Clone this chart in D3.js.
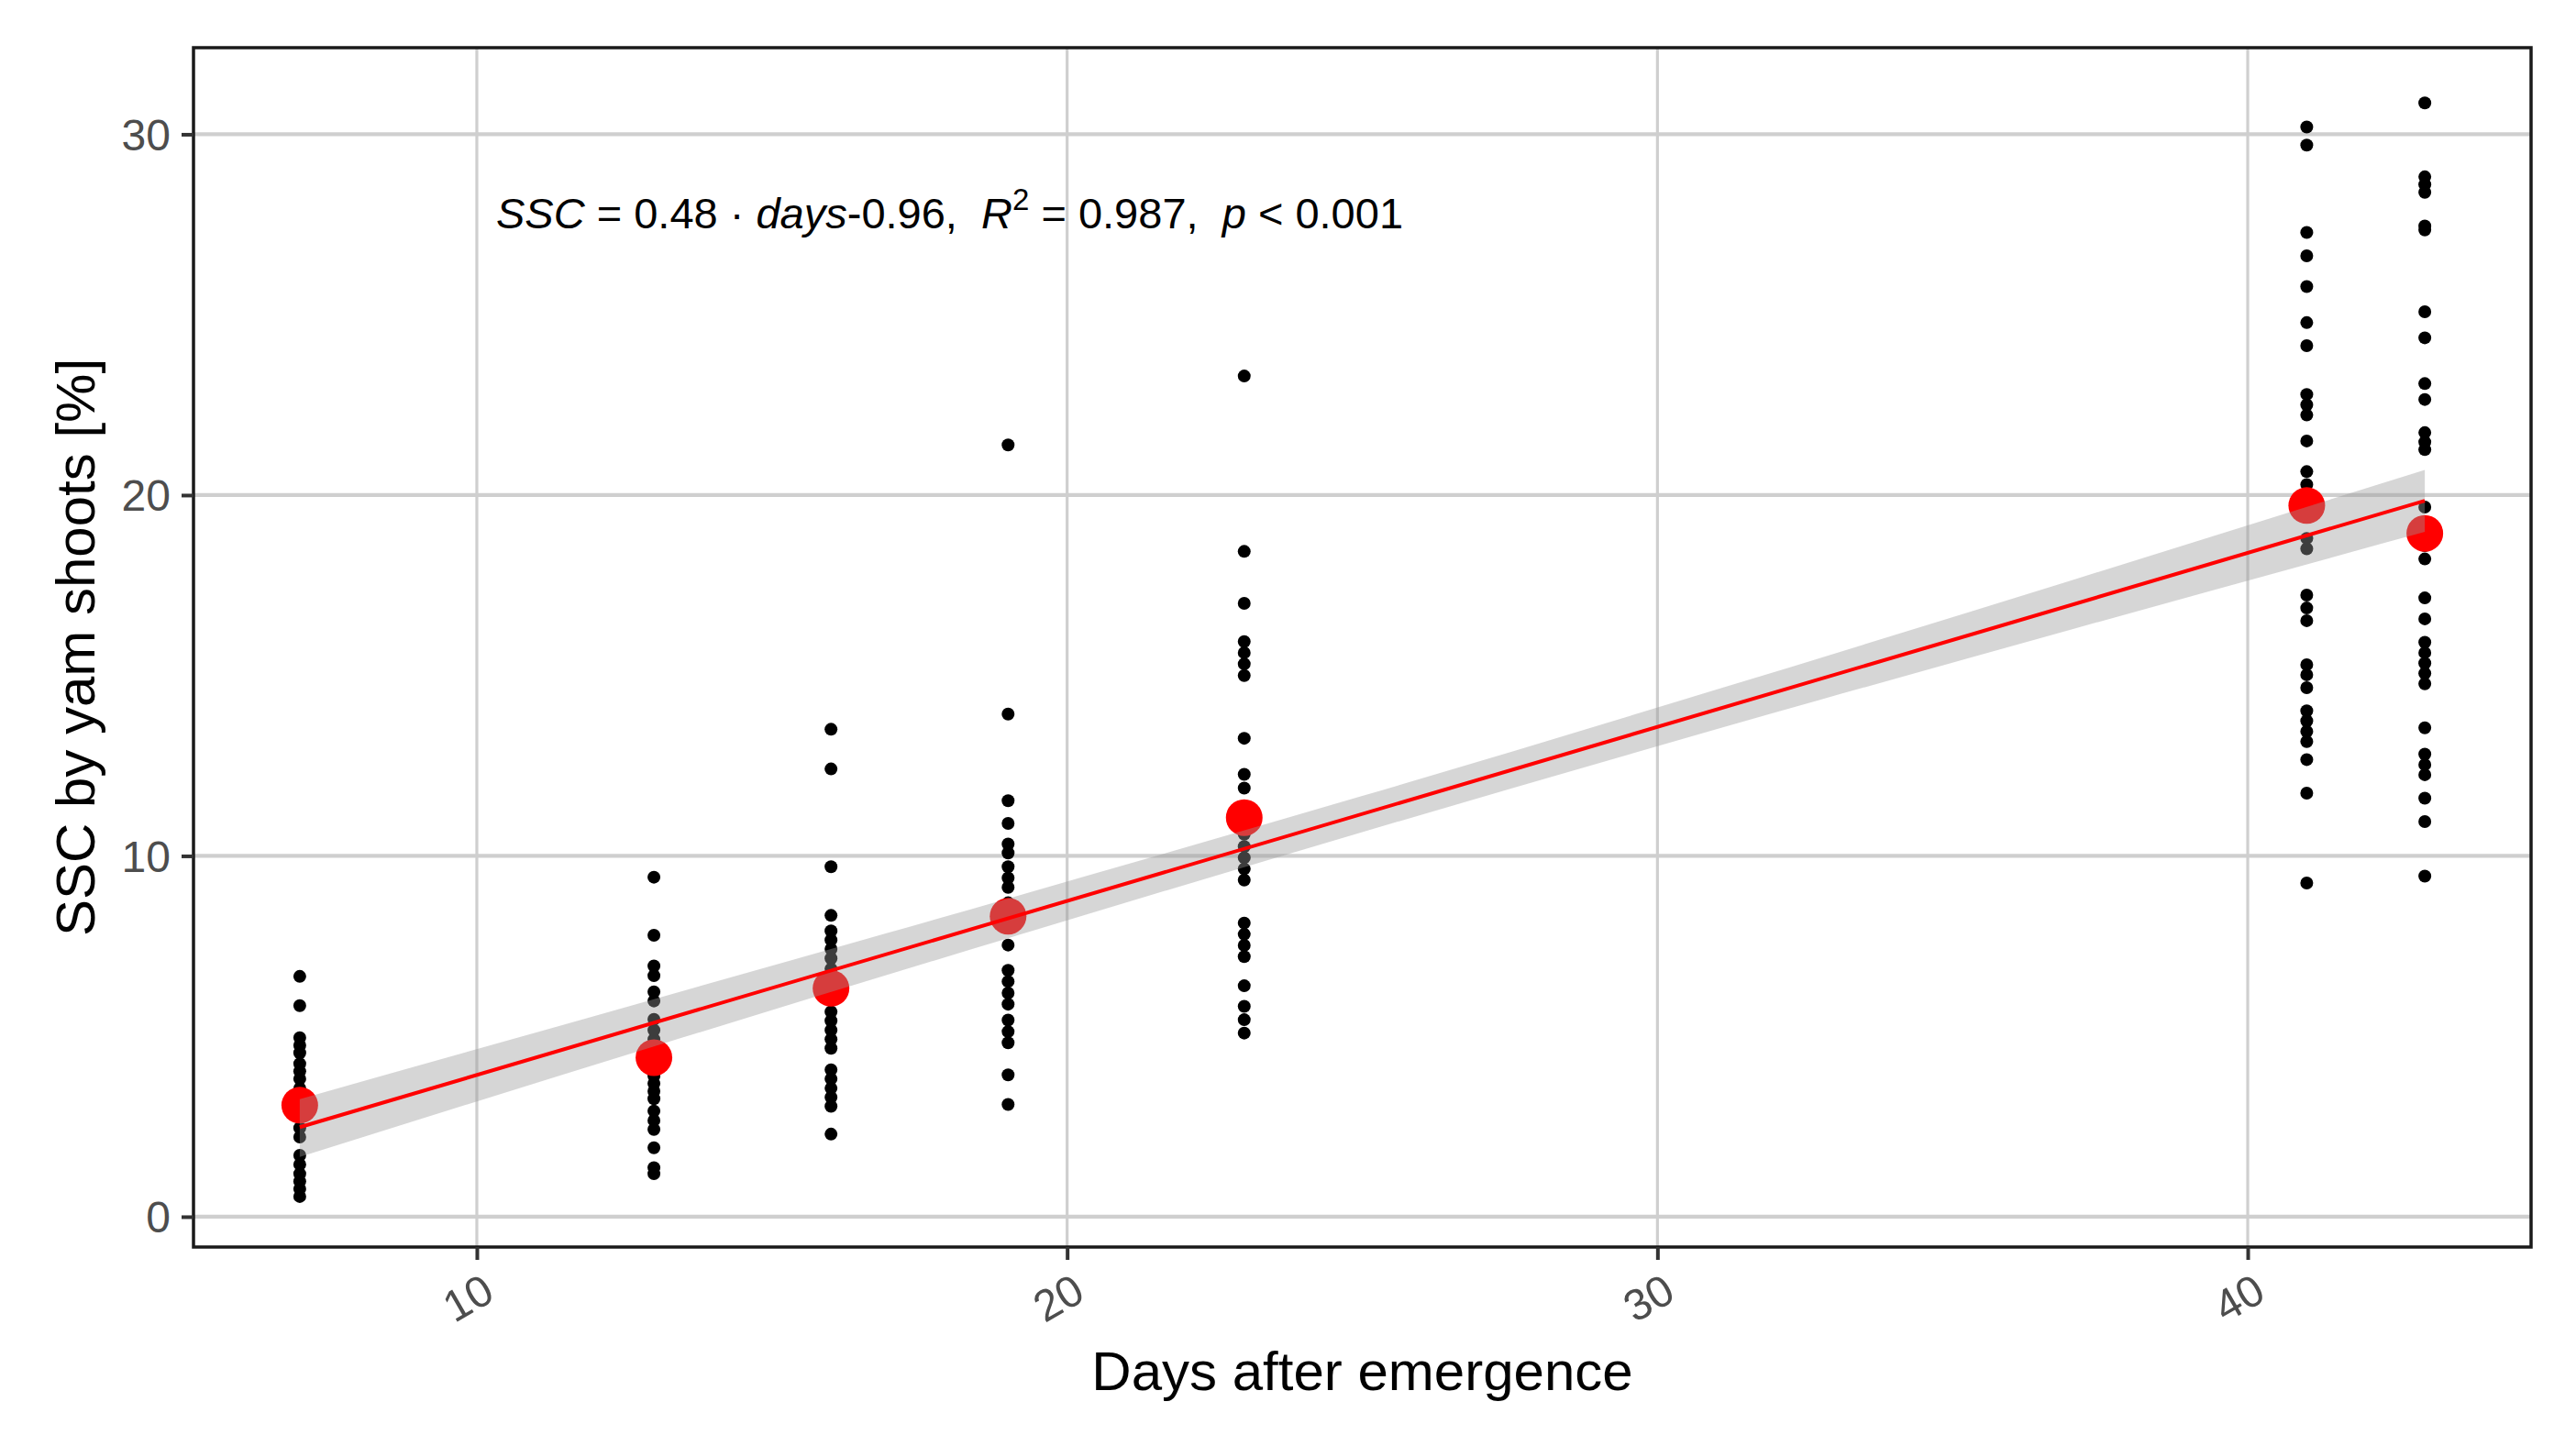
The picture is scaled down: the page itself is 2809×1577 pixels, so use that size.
<!DOCTYPE html>
<html><head><meta charset="utf-8">
<script src="https://cdn.jsdelivr.net/npm/d3@7"></script>
<style>html,body{margin:0;padding:0;background:#fff;} svg{display:block}</style>
</head><body><svg id="chart" width="2809" height="1577"></svg>
<script>
// ---------------- data ----------------
const days = [7, 13, 16, 19, 23, 41, 43];
const meanSSC = [3.09, 4.41, 6.33, 8.33, 11.06, 19.71, 18.94];
const sscDay7  = [6.66, 5.85, 4.96, 4.75, 4.54, 4.24, 4.03, 3.82, 3.56, 3.3, 3.05, 2.8, 2.46, 2.21, 1.70, 1.45, 1.19, 0.98, 0.77, 0.56];
const sscDay13 = [9.41, 7.80, 6.95, 6.68, 6.23, 5.98, 5.47, 5.17, 4.92, 4.65, 4.3, 3.90, 3.69, 3.48, 3.27, 2.93, 2.67, 2.42, 1.91, 1.36, 1.19];
const sscDay16 = [13.51, 12.41, 9.70, 8.35, 7.92, 7.67, 7.42, 7.16, 6.87, 6.55, 6.02, 5.68, 5.43, 5.17, 4.92, 4.67, 4.07, 3.82, 3.56, 3.31, 3.06, 2.29];
const sscDay19 = [21.39, 13.93, 11.53, 10.90, 10.33, 10.08, 9.70, 9.39, 9.13, 8.7, 8.41, 8.16, 7.53, 6.83, 6.52, 6.20, 5.89, 5.45, 5.13, 4.82, 3.93, 3.11];
const sscDay23 = [23.30, 18.44, 17.00, 15.94, 15.63, 15.32, 15.00, 13.26, 12.26, 11.88, 11.3, 10.6, 10.26, 9.95, 9.64, 9.33, 8.14, 7.83, 7.52, 7.21, 6.40, 5.83, 5.46, 5.09];
const sscDay41 = [30.20, 29.70, 27.28, 26.63, 25.78, 24.78, 24.14, 22.79, 22.50, 22.22, 21.50, 20.65, 20.29, 19.9, 19.4, 18.8, 18.51, 17.23, 16.87, 16.52, 15.30, 15.02, 14.66, 14.02, 13.74, 13.45, 13.17, 12.67, 11.74, 9.25];
const sscDay43 = [30.87, 28.82, 28.61, 28.39, 27.46, 27.35, 25.08, 24.36, 23.09, 22.65, 21.73, 21.47, 21.26, 19.67, 19.2, 18.6, 18.23, 17.15, 16.57, 15.92, 15.63, 15.34, 15.06, 14.77, 13.55, 12.82, 12.53, 12.25, 11.60, 10.95, 9.44];
// confidence band of the fitted line
const bandDays  = [7, 13, 19, 25, 31, 37, 43];
const bandLower = [1.66, 4.72, 7.72, 10.66, 13.51, 16.27, 18.98];
const bandUpper = [3.26, 6.03, 8.82, 11.66, 14.61, 17.63, 20.70];
const xTicks = [10, 20, 30, 40];
const yTicks = [0, 10, 20, 30];
const yDomain = [-0.84, 32.40];
const xTitle = "Days after emergence";
const yTitle = "SSC by yam shoots [%]";
// equation label pieces: [text, italic, superscript]
const eqParts = [["SSC", true, false], [" = 0.48 \u00B7 ", false, false], ["days", true, false], ["-0.96,  ", false, false],
                 ["R", true, false], ["2", false, true], [" = 0.987,  ", false, false], ["p", true, false], [" < 0.001", false, false]];

// ---------------- layout ----------------
const W = 2809, H = 1577;
const P = {left: 211, right: 2760, top: 52, bottom: 1360};
const FONT = "'Liberation Sans', Arial, Helvetica, sans-serif";

const groups = [sscDay7, sscDay13, sscDay16, sscDay19, sscDay23, sscDay41, sscDay43];
const raw = [];
groups.forEach((g, i) => g.forEach(v => raw.push({day: days[i], ssc: v})));
const means = days.map((d, i) => ({day: d, ssc: meanSSC[i]}));
const band = bandDays.map((d, i) => ({day: d, lo: bandLower[i], hi: bandUpper[i]}));

const dExt = d3.extent(days), dR = dExt[1] - dExt[0];
const x = d3.scaleLinear().domain([dExt[0] - 0.05 * dR, dExt[1] + 0.05 * dR]).range([P.left, P.right]);
const y = d3.scaleLinear().domain(yDomain).range([P.bottom, P.top]);

const svg = d3.select("#chart").attr("viewBox", `0 0 ${W} ${H}`);
svg.append("rect").attr("width", W).attr("height", H).attr("fill", "#fff");

// grid
const grid = svg.append("g");
grid.selectAll("line.gx").data(xTicks).join("line")
  .attr("x1", d => x(d)).attr("x2", d => x(d)).attr("y1", P.top).attr("y2", P.bottom)
  .attr("stroke", "#cfcfcf").attr("stroke-width", 3.2);
grid.selectAll("line.gy").data(yTicks).join("line")
  .attr("y1", d => y(d)).attr("y2", d => y(d)).attr("x1", P.left).attr("x2", P.right)
  .attr("stroke", "#cfcfcf").attr("stroke-width", 4.2);

// least-squares line through the group means
const xb = d3.mean(days), yb = d3.mean(meanSSC);
const Sxx = d3.sum(days, d => (d - xb) ** 2);
const Sxy = d3.sum(days, (d, i) => (d - xb) * (meanSSC[i] - yb));
const slope = Sxy / Sxx, intercept = yb - slope * xb;
const fitPts = dExt.map(d => ({day: d, fit: intercept + slope * d}));

// raw points
svg.append("g").selectAll("circle").data(raw).join("circle")
  .attr("cx", d => x(d.day)).attr("cy", d => y(d.ssc)).attr("r", 7).attr("fill", "#000");
// mean points
svg.append("g").selectAll("circle").data(means).join("circle")
  .attr("cx", d => x(d.day)).attr("cy", d => y(d.ssc)).attr("r", 20).attr("fill", "#ff0000");
// band
svg.append("path").datum(band)
  .attr("d", d3.area().curve(d3.curveMonotoneX).x(d => x(d.day)).y0(d => y(d.lo)).y1(d => y(d.hi)))
  .attr("fill", "#999999").attr("fill-opacity", 0.4);
// line
svg.append("path").datum(fitPts)
  .attr("d", d3.line().x(d => x(d.day)).y(d => y(d.fit)))
  .attr("fill", "none").attr("stroke", "#ff0000").attr("stroke-width", 4);

// panel border
svg.append("rect").attr("x", P.left).attr("y", P.top).attr("width", P.right - P.left).attr("height", P.bottom - P.top)
  .attr("fill", "none").attr("stroke", "#1a1a1a").attr("stroke-width", 3.5);

// axes (ticks via d3 axes)
const xAxis = svg.append("g").attr("transform", `translate(0,${P.bottom})`)
  .call(d3.axisBottom(x).tickValues(xTicks).tickSize(14).tickFormat(""));
const yAxis = svg.append("g").attr("transform", `translate(${P.left},0)`)
  .call(d3.axisLeft(y).tickValues(yTicks).tickSize(13).tickFormat(""));
[xAxis, yAxis].forEach(a => {
  a.select(".domain").remove();
  a.selectAll(".tick line").attr("stroke", "#333").attr("stroke-width", 4);
});
// tick labels
svg.append("g").selectAll("text").data(xTicks).join("text")
  .attr("transform", d => `translate(${x(d) - 10},${P.bottom + 55}) rotate(-30)`)
  .attr("text-anchor", "middle").attr("dy", "0.36em")
  .attr("font-family", FONT).attr("font-size", 48).attr("fill", "#4d4d4d").text(d => d);
svg.append("g").selectAll("text").data(yTicks).join("text")
  .attr("x", 186).attr("y", d => y(d)).attr("dy", "0.36em").attr("text-anchor", "end")
  .attr("font-family", FONT).attr("font-size", 48).attr("fill", "#4d4d4d").text(d => d);

// axis titles
svg.append("text").attr("x", (P.left + P.right) / 2).attr("y", 1516).attr("text-anchor", "middle")
  .attr("font-family", FONT).attr("font-size", 60).attr("fill", "#000").text(xTitle);
svg.append("text").attr("transform", `translate(103,${(P.top + P.bottom) / 2}) rotate(-90)`).attr("text-anchor", "middle")
  .attr("font-family", FONT).attr("font-size", 60).attr("fill", "#000").text(yTitle);

// equation label
const eq = svg.append("text").attr("x", 541).attr("y", 249)
  .attr("font-family", FONT).attr("font-size", 47).attr("fill", "#000")
  .style("white-space", "pre");
eqParts.forEach(([t, it, sup], i) => {
  const ts = eq.append("tspan").text(t);
  if (it) ts.attr("font-style", "italic");
  if (sup) ts.attr("font-size", 33).attr("dy", -20);
  else if (i > 0 && eqParts[i - 1][2]) ts.attr("dy", 20);
});
</script></body></html>
